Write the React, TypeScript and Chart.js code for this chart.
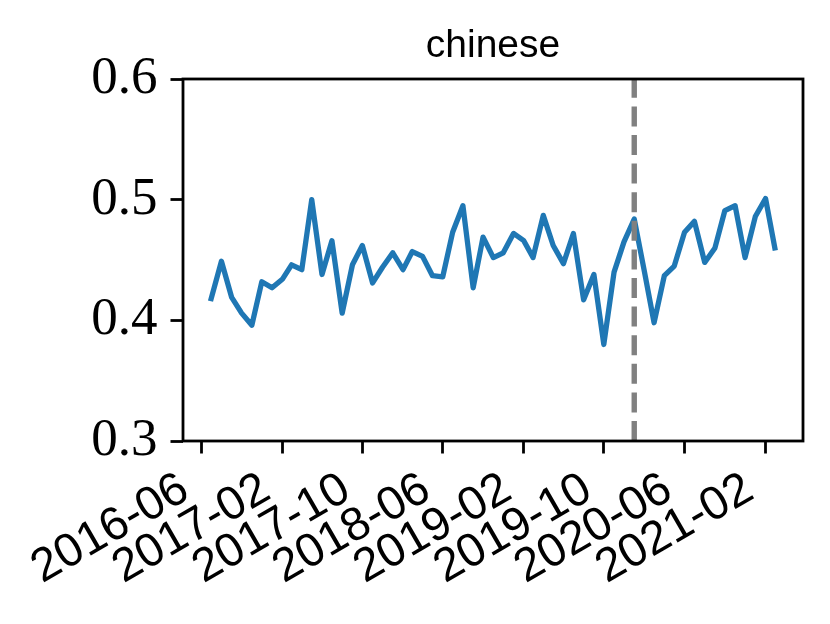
import React, { useEffect, useRef } from 'react';
import { Chart, registerables } from 'chart.js';

Chart.register(...registerables);

const TITLE = 'chinese';

const months = [
  '2016-07', '2016-08', '2016-09', '2016-10', '2016-11', '2016-12',
  '2017-01', '2017-02', '2017-03', '2017-04', '2017-05', '2017-06',
  '2017-07', '2017-08', '2017-09', '2017-10', '2017-11', '2017-12',
  '2018-01', '2018-02', '2018-03', '2018-04', '2018-05', '2018-06',
  '2018-07', '2018-08', '2018-09', '2018-10', '2018-11', '2018-12',
  '2019-01', '2019-02', '2019-03', '2019-04', '2019-05', '2019-06',
  '2019-07', '2019-08', '2019-09', '2019-10', '2019-11', '2019-12',
  '2020-01', '2020-02', '2020-03', '2020-04', '2020-05', '2020-06',
  '2020-07', '2020-08', '2020-09', '2020-10', '2020-11', '2020-12',
  '2021-01', '2021-02', '2021-03',
];

const values = [
  0.418, 0.449, 0.419, 0.406, 0.396, 0.432,
  0.427, 0.434, 0.446, 0.442, 0.500, 0.438,
  0.466, 0.406, 0.446, 0.462, 0.431, 0.444,
  0.456, 0.442, 0.457, 0.453, 0.437, 0.436,
  0.473, 0.495, 0.427, 0.469, 0.452, 0.456,
  0.472, 0.466, 0.452, 0.487, 0.462, 0.447,
  0.472, 0.417, 0.438, 0.380, 0.440, 0.465,
  0.484, 0.440, 0.398, 0.437, 0.445, 0.473,
  0.482, 0.448, 0.460, 0.491, 0.495, 0.452,
  0.486, 0.501, 0.460,
];

const xTickMonths = ['2016-06', '2017-02', '2017-10', '2018-06', '2019-02', '2019-10', '2020-06', '2021-02'];
const xTickLabels = ['2016-06', '2017-02', '2017-10', '2018-06', '2019-02', '2019-10', '2020-06', '2021-02'];
const yTicks = [0.3, 0.4, 0.5, 0.6];
const yTickLabels = ['0.3', '0.4', '0.5', '0.6'];
const eventMonth = '2020-01';
const Y_MIN = 0.3;
const Y_MAX = 0.6;

const dayNum = (ym: string) => {
  const [y, m] = ym.split('-').map(Number);
  return Date.UTC(y, m - 1, 1) / 86400000;
};

export default function App() {
  const ref = useRef<HTMLCanvasElement | null>(null);

  useEffect(() => {
    const canvas = ref.current;
    if (!canvas) return;
    const xs = months.map(dayNum);
    const span = xs[xs.length - 1] - xs[0];
    const xMin = xs[0] - 0.05 * span;
    const xMax = xs[xs.length - 1] + 0.05 * span;

    const framePlugin = {
      id: 'frame',
      afterDatasetsDraw(chart: any) {
        const { ctx, chartArea } = chart;
        ctx.save();
        ctx.strokeStyle = '#000';
        ctx.lineWidth = 2.8;
        ctx.lineJoin = 'miter';
        ctx.strokeRect(chartArea.left, chartArea.top, chartArea.right - chartArea.left, chartArea.bottom - chartArea.top);
        ctx.restore();
      },
    };

    const titlePlugin = {
      id: 'mtitle',
      afterDraw(chart: any) {
        const { ctx, chartArea } = chart;
        ctx.save();
        ctx.font = '39px "Liberation Sans"';
        ctx.fillStyle = '#000';
        ctx.textAlign = 'center';
        ctx.textBaseline = 'alphabetic';
        ctx.fillText(TITLE, (chartArea.left + chartArea.right) / 2, 57);
        ctx.restore();
      },
    };

    const gridOpts = {
      display: true,
      drawOnChartArea: false,
      drawTicks: true,
      tickLength: 12.5,
      tickWidth: 2.8,
      tickColor: '#000',
      color: '#000',
    };

    const chart = new Chart(canvas, {
      type: 'line',
      data: {
        datasets: [
          {
            label: 'event',
            data: [
              { x: dayNum(eventMonth), y: Y_MIN },
              { x: dayNum(eventMonth), y: Y_MAX },
            ],
            borderColor: '#808080',
            borderWidth: 5.4,
            borderDash: [20, 8.6],
            borderCapStyle: 'butt',
            pointRadius: 0,
            tension: 0,
            order: 0,
          },
          {
            label: TITLE,
            data: months.map((m, i) => ({ x: dayNum(m), y: values[i] })),
            borderColor: '#1f77b4',
            borderWidth: 5.3,
            borderJoinStyle: 'round',
            borderCapStyle: 'square',
            pointRadius: 0,
            tension: 0,
            order: 1,
          },
        ],
      },
      options: {
        responsive: false,
        animation: false,
        devicePixelRatio: 1,
        layout: { padding: { top: 79, right: 27, left: 0, bottom: 0 } },
        plugins: {
          legend: { display: false },
          tooltip: { enabled: false },
          title: { display: false },
        },
        scales: {
          x: {
            type: 'linear',
            min: xMin,
            max: xMax,
            afterFit: (s: any) => { s.height = 183; },
            afterBuildTicks: (s: any) => { s.ticks = xTickMonths.map((m) => ({ value: dayNum(m) })); },
            ticks: {
              autoSkip: false,
              minRotation: 30,
              maxRotation: 30,
              padding: 8,
              labelOffset: -16,
              color: '#000',
              font: { family: 'Liberation Sans', size: 47, lineHeight: 1.2 },
              callback: (_v: any, i: number) => xTickLabels[i],
            },
            grid: gridOpts,
            border: { display: false },
          },
          y: {
            type: 'linear',
            min: Y_MIN,
            max: Y_MAX,
            afterFit: (s: any) => { s.width = 183; },
            afterBuildTicks: (s: any) => { s.ticks = yTicks.map((v) => ({ value: v })); },
            ticks: {
              padding: 13,
              color: '#000',
              font: { family: 'Liberation Serif', size: 53, lineHeight: 1.2 },
              callback: (_v: any, i: number) => yTickLabels[i],
            },
            grid: gridOpts,
            border: { display: false },
          },
        },
      } as any,
      plugins: [framePlugin, titlePlugin],
    });

    return () => chart.destroy();
  }, []);

  return (
    <div style={{ position: 'fixed', left: 0, top: 0, width: 830, height: 624, background: '#fff' }}>
      <canvas ref={ref} width={830} height={624} style={{ display: 'block' }} />
    </div>
  );
}
